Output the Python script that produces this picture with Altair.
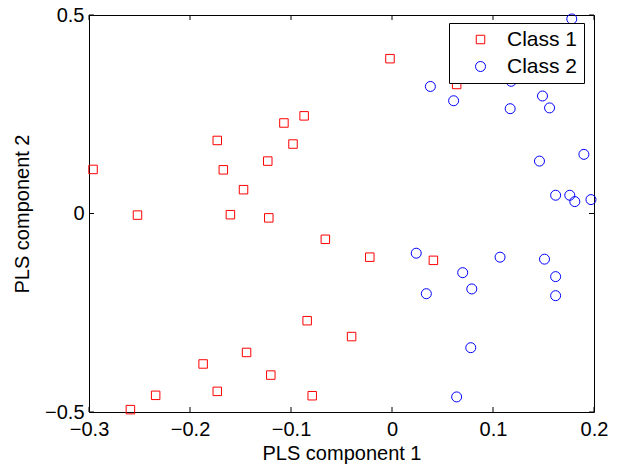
import altair as alt
import pandas as pd

class1_x = [-0.296, -0.252, -0.173, -0.167, -0.147, -0.160, -0.123, -0.122, -0.107, -0.098,
            -0.087, -0.002, 0.064, -0.066, -0.084, -0.040, -0.144, -0.187, -0.120, -0.234,
            -0.173, -0.079, -0.259, -0.022, 0.041]
class1_y = [0.111, -0.004, 0.184, 0.110, 0.060, -0.003, 0.132, -0.011, 0.228, 0.175,
            0.246, 0.390, 0.325, -0.065, -0.270, -0.310, -0.350, -0.379, -0.407, -0.458,
            -0.448, -0.459, -0.494, -0.110, -0.118]
class2_x = [0.038, 0.061, 0.118, 0.117, 0.149, 0.156, 0.178, 0.146, 0.190, 0.162,
            0.176, 0.181, 0.197, 0.024, 0.070, 0.034, 0.079, 0.107, 0.151, 0.162,
            0.162, 0.078, 0.064]
class2_y = [0.320, 0.284, 0.333, 0.264, 0.296, 0.266, 0.490, 0.132, 0.149, 0.046,
            0.046, 0.030, 0.035, -0.100, -0.149, -0.202, -0.190, -0.110, -0.115, -0.159,
            -0.207, -0.338, -0.462]
classes = ["Class 1", "Class 2"]
x_ticks = [-0.3, -0.2, -0.1, 0.0, 0.1, 0.2]
y_ticks = [-0.5, 0.0, 0.5]

W, H = 505, 397
TL = 5

df = pd.DataFrame({
    "x": class1_x + class2_x,
    "y": class1_y + class2_y,
    "cls": [classes[0]] * len(class1_x) + [classes[1]] * len(class2_x),
})
xt = pd.DataFrame({"v": x_ticks})
yt = pd.DataFrame({"v": y_ticks})

lab = "datum.value == 0 ? '0' : format(datum.value, '.1f')"
xscale = alt.Scale(domain=[-0.3, 0.2], nice=False, zero=False)
yscale = alt.Scale(domain=[-0.5, 0.5], nice=False, zero=False)

points = alt.Chart(df).mark_point(filled=False, strokeWidth=1, opacity=1).encode(
    x=alt.X("x:Q", scale=xscale,
            axis=alt.Axis(values=x_ticks, title="PLS component 1", labelExpr=lab,
                          tickSize=0, domain=False, grid=False, labelPadding=7,
                          labelFlush=False, labelOverlap=False, titlePadding=4)),
    y=alt.Y("y:Q", scale=yscale,
            axis=alt.Axis(values=y_ticks, title="PLS component 2", labelExpr=lab,
                          tickSize=0, domain=False, grid=False, labelPadding=5,
                          labelFlush=False, labelOverlap=False, titlePadding=12)),
    shape=alt.Shape("cls:N", scale=alt.Scale(domain=classes, range=["square", "circle"]),
                    legend=alt.Legend(title=None)),
    color=alt.Color("cls:N", scale=alt.Scale(domain=classes, range=["#ff0000", "#0000ff"]),
                    legend=alt.Legend(title=None)),
    size=alt.Size("cls:N", scale=alt.Scale(domain=classes, range=[72, 100]), legend=None),
)

bot = alt.Chart(xt).mark_rule(color="black", strokeWidth=1).encode(
    x=alt.X("v:Q", scale=xscale), y=alt.value(H), y2=alt.value(H - TL))
top = alt.Chart(xt).mark_rule(color="black", strokeWidth=1).encode(
    x=alt.X("v:Q", scale=xscale), y=alt.value(0), y2=alt.value(TL))
left = alt.Chart(yt).mark_rule(color="black", strokeWidth=1).encode(
    y=alt.Y("v:Q", scale=yscale), x=alt.value(0), x2=alt.value(TL))
right = alt.Chart(yt).mark_rule(color="black", strokeWidth=1).encode(
    y=alt.Y("v:Q", scale=yscale), x=alt.value(W), x2=alt.value(W - TL))

chart = alt.layer(bot, top, left, right, points).properties(
    width=W, height=H,
    autosize=alt.AutoSizeParams(type="none"),
    padding={"left": 89, "top": 15, "right": 30, "bottom": 56},
).configure_view(stroke="black", strokeWidth=1).configure_axis(
    labelFont="Liberation Sans", titleFont="Liberation Sans",
    labelFontSize=20, titleFontSize=20, titleFontWeight="normal",
    labelColor="black", titleColor="black",
).configure_legend(
    orient="none", legendX=360, legendY=8,
    strokeColor="black", fillColor="white", padding=6,
    labelFont="Liberation Sans", labelFontSize=21, labelColor="black",
    symbolSize=95, symbolStrokeWidth=1, symbolOffset=15, labelOffset=16,
    rowPadding=5, symbolType="circle",
)

chart.save("out.html", embed_options={"renderer": "svg", "actions": False})
